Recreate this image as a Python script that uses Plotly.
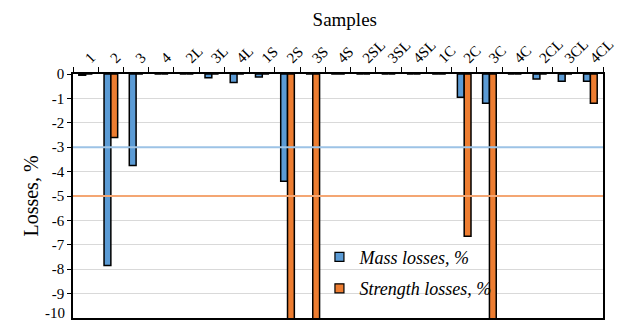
import plotly.graph_objects as go

samples = ["1", "2", "3", "4", "2L", "3L", "4L", "1S", "2S", "3S", "4S",
           "2SL", "3SL", "4SL", "1C", "2C", "3C", "4C", "2CL", "3CL", "4CL"]
mass_losses = [-0.05, -7.85, -3.75, 0, 0, -0.15, -0.35, -0.12, -4.4, 0, 0,
               0, 0, 0, 0, -0.95, -1.2, 0, -0.2, -0.3, -0.3]
strength_losses = [0, -2.6, 0, 0, 0, 0, 0, 0, -14, -14, 0,
                   0, 0, 0, 0, -6.65, -14, 0, 0, 0, -1.2]
y_ticks = [0, -1, -2, -3, -4, -5, -6, -7, -8, -9]
y_tick_labels = ["0", "-1", "-2", "-3", "-4", "-5", "-6", "-7", "-8", "-9"]
y_bottom = -10
y_bottom_label = "-10"
mass_limit = -3
strength_limit = -5

FONT = "Liberation Serif, Times New Roman, serif"
BLUE = "#5b9bd5"
ORANGE = "#ed7d31"

fig = go.Figure()
fig.add_trace(go.Bar(x=samples, y=mass_losses, showlegend=False,
                     marker=dict(color=BLUE, line=dict(color="black", width=1.5))))
fig.add_trace(go.Bar(x=samples, y=strength_losses, showlegend=False,
                     marker=dict(color=ORANGE, line=dict(color="black", width=1.5))))
# legend entries with square keys
fig.add_trace(go.Scatter(x=[None], y=[None], mode="markers", name="<i>Mass losses, %</i>",
                         legendgroup="a",
                         marker=dict(symbol="square", size=9, color=BLUE,
                                     line=dict(color="black", width=1.2))))
fig.add_trace(go.Scatter(x=[None], y=[None], mode="markers", name="<i>Strength losses, %</i>",
                         legendgroup="b",
                         marker=dict(symbol="square", size=9, color=ORANGE,
                                     line=dict(color="black", width=1.2))))

fig.add_shape(type="line", xref="paper", yref="y", x0=0, x1=1, y0=mass_limit, y1=mass_limit,
              line=dict(color="#9dc3e6", width=2), layer="above")
fig.add_shape(type="line", xref="paper", yref="y", x0=0, x1=1, y0=strength_limit, y1=strength_limit,
              line=dict(color="#f4a673", width=2), layer="above")

fig.add_annotation(xref="paper", yref="y", x=0, y=y_bottom, text=y_bottom_label,
                   showarrow=False, xanchor="right", yanchor="bottom", xshift=-6, yshift=-5,
                   font=dict(family=FONT, size=15, color="black"))

fig.update_layout(
    width=619, height=323,
    margin=dict(l=73, r=3, t=74, b=5),
    paper_bgcolor="white", plot_bgcolor="white",
    font=dict(family=FONT, size=14, color="black"),
    barmode="group", bargap=0.46, bargroupgap=0,
    showlegend=True,
    legend=dict(x=0.465, y=0.325, xanchor="left", yanchor="top",
                bgcolor="rgba(0,0,0,0)", font=dict(family=FONT, size=18),
                tracegroupgap=5),
    title=dict(text="Samples", x=0.557, xanchor="center", y=0.94, yanchor="middle",
               font=dict(family=FONT, size=19)),
)
fig.update_xaxes(side="top", type="category", tickangle=-45, ticks="outside",
                 tickson="boundaries", ticklen=5, tickcolor="black",
                 showline=True, linecolor="black", linewidth=1.5, mirror=True,
                 showgrid=False, tickfont=dict(family=FONT, size=15, color="black"),
                 range=[-0.5, 20.5])
fig.update_yaxes(range=[-10, 0], tickvals=y_ticks, ticktext=y_tick_labels,
                 showgrid=True, gridcolor="#d9d9d9",
                 ticks="outside", ticklen=4, tickcolor="black",
                 showline=True, linecolor="black", linewidth=1.5, mirror=True,
                 zeroline=False, tickfont=dict(family=FONT, size=15, color="black"),
                 title=dict(text="Losses, %", font=dict(family=FONT, size=20), standoff=8))

fig.write_html("out.html")
